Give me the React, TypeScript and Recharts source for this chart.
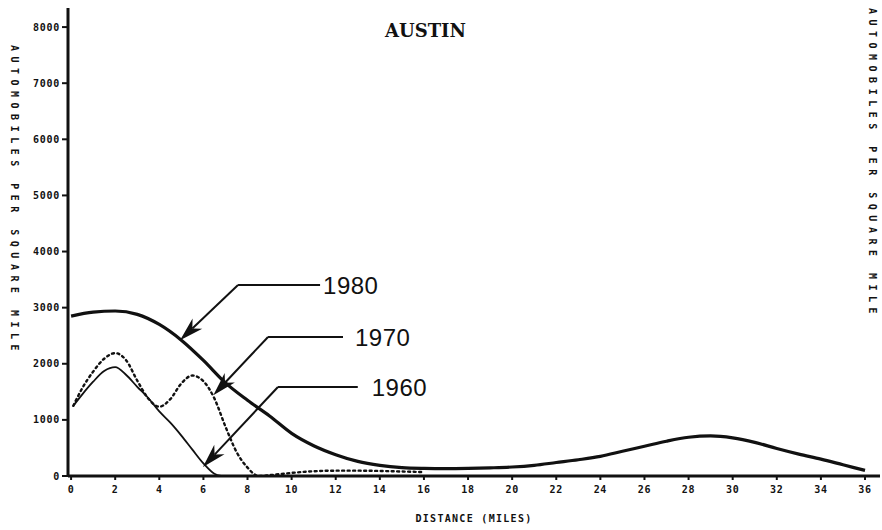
import { LineChart, Line, XAxis, YAxis, ReferenceLine } from "recharts";

// distance from center (miles) and automobiles per square mile
const dist1980 = [0, 1, 2, 3, 4, 5, 6, 7, 8, 9, 10, 11, 12, 13, 14, 15, 16, 17, 18, 19, 20, 21, 22, 23, 24, 25, 26, 27, 28, 29, 30, 31, 32, 33, 34, 35, 36];
const autos1980 = [2850, 2920, 2940, 2880, 2700, 2420, 2060, 1660, 1350, 1070, 760, 540, 380, 260, 190, 150, 135, 130, 135, 145, 160, 190, 240, 290, 350, 440, 530, 620, 690, 715, 680, 600, 490, 390, 300, 200, 100];

const dist1970 = [0.1, 0.5, 1, 1.5, 2, 2.5, 3, 3.5, 4, 4.5, 5, 5.5, 6, 6.5, 7, 7.5, 8, 8.5, 9, 10, 11, 12, 13, 14, 15, 16];
const autos1970 = [1250, 1560, 1860, 2090, 2190, 2060, 1700, 1380, 1235, 1370, 1650, 1790, 1690, 1380, 880, 430, 150, 0, 15, 55, 85, 95, 95, 90, 80, 70];

const dist1960 = [0.1, 0.5, 1, 1.5, 2, 2.5, 3, 3.5, 4, 4.5, 5, 5.5, 6, 6.5, 6.8];
const autos1960 = [1250, 1450, 1680, 1870, 1940, 1800, 1590, 1390, 1150, 950, 720, 470, 225, 40, 0];

const xTicks = [0, 2, 4, 6, 8, 10, 12, 14, 16, 18, 20, 22, 24, 26, 28, 30, 32, 34, 36];
const yTicks = [0, 1000, 2000, 3000, 4000, 5000, 6000, 7000, 8000];

// call-out arrows, in data units: arrow tip, elbow, end of the horizontal leader
const callouts = [
  { year: "1980", tip: [4.94, 2420], corner: [7.57, 3405], end: [11.29, 3405], gap: 3 },
  { year: "1970", tip: [6.45, 1440], corner: [8.93, 2478], end: [12.33, 2478], gap: 12 },
  { year: "1960", tip: [5.98, 160], corner: [9.38, 1586], end: [13.0, 1586], gap: 14 },
];

const toPoints = (xs: number[], ys: number[]) => xs.map((d, i) => ({ dist: d, autos: ys[i] }));

const ink = "#111";
const tickFont = { fill: ink, fontSize: 10, fontWeight: 700, fontFamily: "DejaVu Sans Mono", letterSpacing: 0.7 };

const ArrowShape = (props: any) => {
  const { x1, y1, x2, y2 } = props;
  const ang = Math.atan2(y2 - y1, x2 - x1);
  const c = Math.cos(ang);
  const s = Math.sin(ang);
  const len = 24;
  const half = 7;
  const notch = 17;
  const bx = x2 - len * c;
  const by = y2 - len * s;
  const nx = x2 - notch * c;
  const ny = y2 - notch * s;
  const pts = [
    [x2, y2],
    [bx - s * half, by + c * half],
    [nx, ny],
    [bx + s * half, by - c * half],
  ]
    .map((p) => p.join(","))
    .join(" ");
  return (
    <g>
      <line x1={x1} y1={y1} x2={nx} y2={ny} stroke={ink} strokeWidth={2} />
      <polygon points={pts} fill={ink} />
    </g>
  );
};

const leaderShape = (text: string, gap: number) => (props: any) => {
  const { x1, y1, x2, y2 } = props;
  return (
    <g>
      <line x1={x1} y1={y1} x2={x2} y2={y2} stroke={ink} strokeWidth={2} />
      <text
        x={x2 + gap}
        y={y2}
        dy="0.36em"
        fill={ink}
        fontSize={24}
        fontFamily="Liberation Sans, Arial, sans-serif"
        letterSpacing={0.5}
      >
        {text}
      </text>
    </g>
  );
};

const sideLabel: React.CSSProperties = {
  position: "absolute",
  writingMode: "vertical-rl",
  fontFamily: "DejaVu Sans Mono",
  fontWeight: 700,
  fontSize: 10,
  letterSpacing: 5.5,
  color: ink,
  lineHeight: "10px",
  whiteSpace: "nowrap",
};

export default function App() {
  return (
    <div style={{ position: "absolute", top: 0, left: 0, width: 882, height: 530, background: "#fff" }}>
      <LineChart width={882} height={530} margin={{ top: 8, right: 2, bottom: 0, left: 8 }}>
        <XAxis
          type="number"
          dataKey="dist"
          domain={[-0.14, 36.68]}
          allowDataOverflow
          ticks={xTicks}
          interval={0}
          height={54}
          axisLine={{ stroke: ink, strokeWidth: 3 }}
          tickLine={{ stroke: ink, strokeWidth: 2 }}
          tickSize={4}
          tickMargin={6}
          tick={tickFont}
          label={{
            value: "DISTANCE (MILES)",
            position: "insideBottom",
            offset: 8,
            fill: ink,
            fontSize: 10,
            fontWeight: 700,
            fontFamily: "DejaVu Sans Mono",
            letterSpacing: 1.3,
          }}
        />
        <YAxis
          type="number"
          dataKey="autos"
          domain={[0, 8340]}
          allowDataOverflow
          ticks={yTicks}
          interval={0}
          width={60}
          axisLine={{ stroke: ink, strokeWidth: 3 }}
          tickLine={{ stroke: ink, strokeWidth: 2 }}
          tickSize={6}
          tickMargin={2}
          tick={tickFont}
        />
        <Line
          data={toPoints(dist1980, autos1980)}
          dataKey="autos"
          type="monotone"
          stroke={ink}
          strokeWidth={3.2}
          dot={false}
          activeDot={false}
          isAnimationActive={false}
        />
        <Line
          data={toPoints(dist1970, autos1970)}
          dataKey="autos"
          type="monotone"
          stroke={ink}
          strokeWidth={2.4}
          strokeDasharray="2 3.5"
          strokeLinecap="round"
          dot={false}
          activeDot={false}
          isAnimationActive={false}
        />
        <Line
          data={toPoints(dist1960, autos1960)}
          dataKey="autos"
          type="monotone"
          stroke={ink}
          strokeWidth={1.8}
          dot={false}
          activeDot={false}
          isAnimationActive={false}
        />
        {callouts.map((c) => (
          <ReferenceLine
            key={`d-${c.year}`}
            ifOverflow="visible"
            segment={[
              { x: c.corner[0], y: c.corner[1] },
              { x: c.tip[0], y: c.tip[1] },
            ]}
            shape={ArrowShape}
          />
        ))}
        {callouts.map((c) => (
          <ReferenceLine
            key={`h-${c.year}`}
            ifOverflow="visible"
            segment={[
              { x: c.corner[0], y: c.corner[1] },
              { x: c.end[0], y: c.end[1] },
            ]}
            shape={leaderShape(c.year, c.gap)}
          />
        ))}
      </LineChart>
      <div
        style={{
          position: "absolute",
          left: 385,
          top: 20,
          fontFamily: "DejaVu Serif",
          fontWeight: 700,
          fontSize: 18,
          color: ink,
        }}
      >
        AUSTIN
      </div>
      <div style={{ ...sideLabel, left: 9, top: 45 }}>AUTOMOBILES PER SQUARE MILE</div>
      <div style={{ ...sideLabel, left: 867, top: 8 }}>AUTOMOBILES PER SQUARE MILE</div>
    </div>
  );
}
